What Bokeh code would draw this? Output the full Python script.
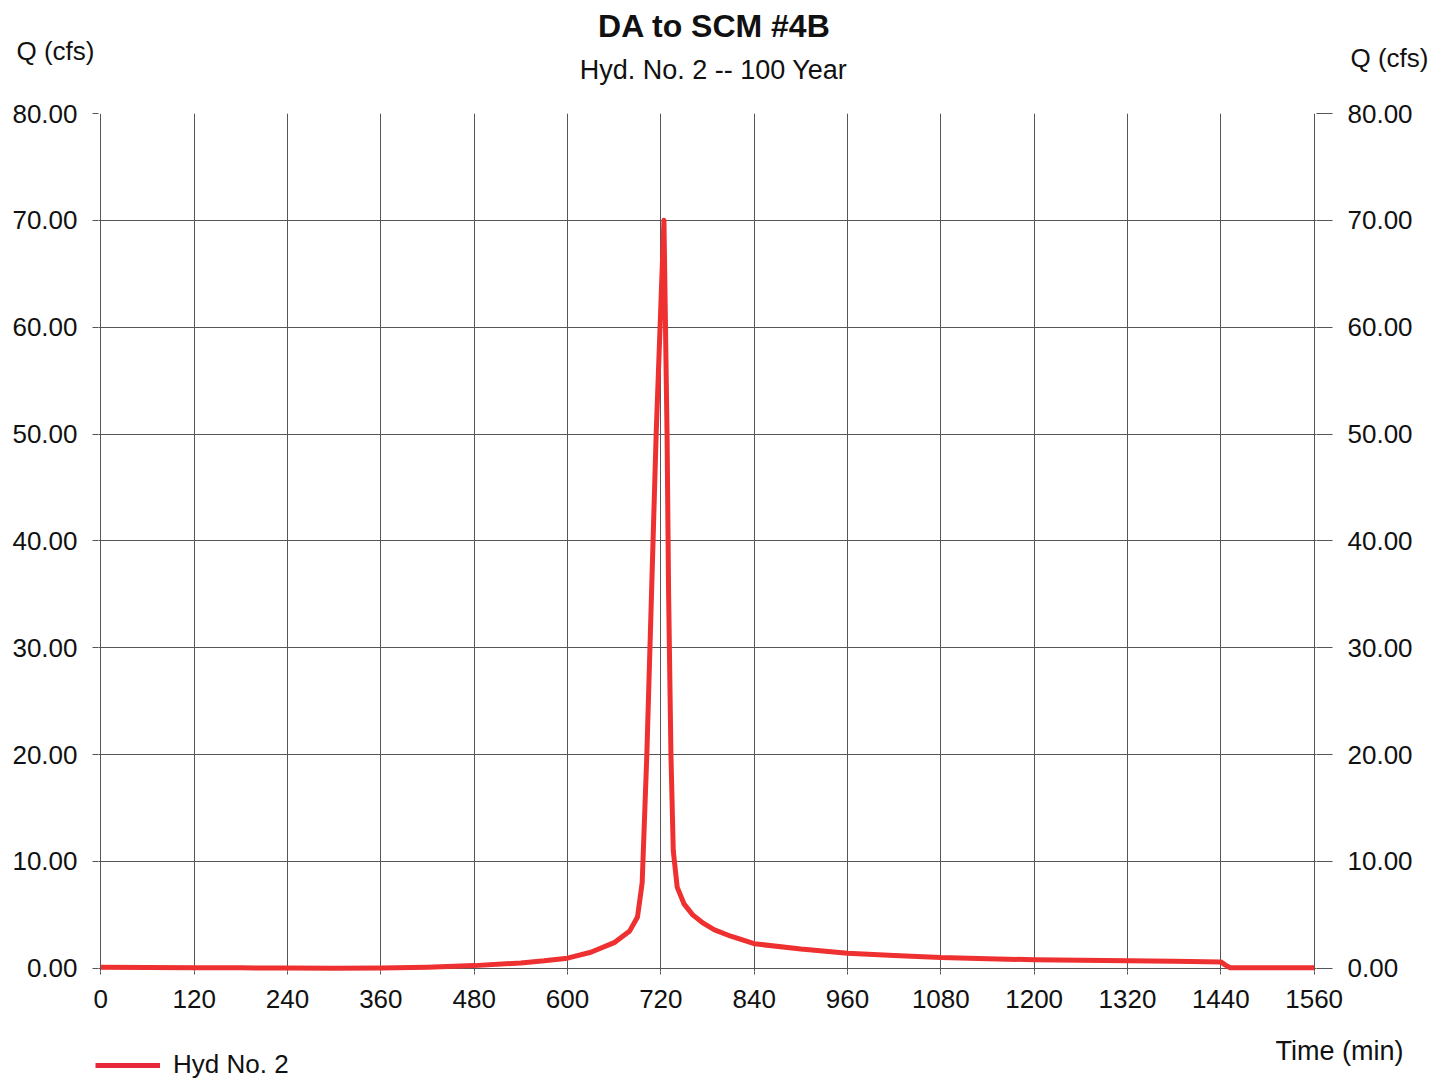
from bokeh.plotting import figure
from bokeh.layouts import column
from bokeh.models import Range1d, LinearAxis, Label, Legend, LegendItem, FixedTicker, NumeralTickFormatter
from bokeh.embed import file_html
from bokeh.resources import INLINE

# Hydrograph data (time in min, flow in cfs)
time_min = [0, 60, 120, 180, 240, 300, 360, 420, 480, 540, 570, 600, 630, 660, 680, 690,
            696, 702, 708, 714, 720, 724, 728, 730, 733, 736, 741, 750, 761, 775, 789, 810,
            840, 900, 960, 1020, 1080, 1140, 1200, 1260, 1320, 1380, 1440, 1446, 1452, 1560]
flow_cfs = [0.10, 0.08, 0.06, 0.04, 0.02, 0.01, 0.02, 0.10, 0.25, 0.50, 0.70, 0.95, 1.5, 2.4, 3.5, 4.8,
            8.0, 20.0, 35.0, 50.0, 62.0, 70.0, 50.0, 35.0, 20.0, 11.0, 7.6, 6.0, 5.0, 4.2, 3.6, 3.0,
            2.3, 1.8, 1.4, 1.2, 1.0, 0.9, 0.8, 0.75, 0.7, 0.65, 0.6, 0.3, 0.05, 0.05]

x_ticks = [0, 120, 240, 360, 480, 600, 720, 840, 960, 1080, 1200, 1320, 1440, 1560]
y_ticks = [0, 10, 20, 30, 40, 50, 60, 70, 80]

title_text = "DA to SCM #4B"
subtitle_text = "Hyd. No. 2 -- 100 Year"
y_label = "Q (cfs)"
x_label = "Time (min)"
series_name = "Hyd No. 2"

FONT = "Liberation Sans"
GRID = "#555555"
RED = "#EE3030"
TXT = "#111111"
W = 1447

HEAD_H = 100          # header strip (titles, y labels)
FOOT_H = 50           # footer strip (x label, legend)
MAIN_H = 1080 - HEAD_H - FOOT_H
FL, FT, FB = 98, 113, 971   # plot frame left / top / bottom in page pixels


def no_align(f):
    try:
        f.frame_align = False
    except Exception:
        pass


def strip(height, y0):
    f = figure(width=W, height=height, output_backend="svg", toolbar_location=None,
               x_range=Range1d(0, W), y_range=Range1d(y0 + height, y0),
               x_axis_type=None, y_axis_type=None, min_border=0,
               min_border_left=0, min_border_right=0, min_border_top=0, min_border_bottom=0)
    f.outline_line_color = None
    f.grid.visible = False
    no_align(f)
    return f


def add_text(f, text, px, py, size, align="left", bold=False):
    f.add_layout(Label(x=px, y=py, text=text, text_font=FONT, text_font_size=size,
                       text_align=align, text_baseline="middle", text_color=TXT,
                       text_font_style="bold" if bold else "normal"))


# ---- header ----
head = strip(HEAD_H, 0)
add_text(head, title_text, 714, 25, "32px", align="center", bold=True)
add_text(head, subtitle_text, 713, 69, "27px", align="center")
add_text(head, y_label, 16, 50, "26px")
add_text(head, y_label, 1350, 57, "26px")

# ---- main plot ----
p = figure(width=W, height=MAIN_H, output_backend="svg", toolbar_location=None,
           x_range=Range1d(-3, 1563), y_range=Range1d(-0.3, 80),
           min_border_left=FL, min_border_right=131, min_border_top=FT - HEAD_H,
           min_border_bottom=HEAD_H + MAIN_H - FB)
p.outline_line_color = None
no_align(p)

for ax in [p.xaxis[0], p.yaxis[0]]:
    ax.axis_line_color = None
    ax.major_tick_line_color = GRID
    ax.major_tick_in = 0
    ax.minor_tick_line_color = None
    ax.major_label_text_font = FONT
    ax.major_label_text_font_size = "26px"
    ax.major_label_text_color = TXT

p.xaxis[0].ticker = FixedTicker(ticks=x_ticks)
p.xaxis[0].major_tick_out = 3
p.xaxis[0].major_label_standoff = 15
p.yaxis[0].ticker = FixedTicker(ticks=y_ticks)
p.yaxis[0].formatter = NumeralTickFormatter(format="0.00")
p.yaxis[0].major_tick_out = 6
p.yaxis[0].major_label_standoff = 15

right = LinearAxis(ticker=FixedTicker(ticks=y_ticks), formatter=NumeralTickFormatter(format="0.00"))
right.axis_line_color = None
right.major_tick_line_color = GRID
right.major_tick_in = 0
right.major_tick_out = 16
right.major_label_standoff = 15
right.minor_tick_line_color = None
right.major_label_text_font = FONT
right.major_label_text_font_size = "26px"
right.major_label_text_color = TXT
p.add_layout(right, "right")

p.xgrid.ticker = FixedTicker(ticks=x_ticks)
p.ygrid.ticker = FixedTicker(ticks=y_ticks)
p.xgrid.grid_line_color = GRID
p.ygrid.grid_line_color = GRID

p.line(time_min, flow_cfs, line_color=RED, line_width=5, line_join="round")

# ---- footer (x label + legend) ----
foot = strip(FOOT_H, HEAD_H + MAIN_H)
add_text(foot, x_label, 1403, 1050, "27px", align="right")
nan = float("nan")
sample = foot.line(x=[nan], y=[nan], line_color="#E8283A", line_width=5)
legend = Legend(items=[LegendItem(label=series_name, renderers=[sample])], location=(95, 0),
                border_line_color=None, background_fill_alpha=0, glyph_width=65, glyph_height=26,
                label_text_font=FONT, label_text_font_size="26px", label_text_color=TXT,
                padding=0, margin=2, label_standoff=13)
foot.add_layout(legend)

layout = column(head, p, foot, spacing=0)
open("out.html", "w").write(file_html(layout, INLINE))
